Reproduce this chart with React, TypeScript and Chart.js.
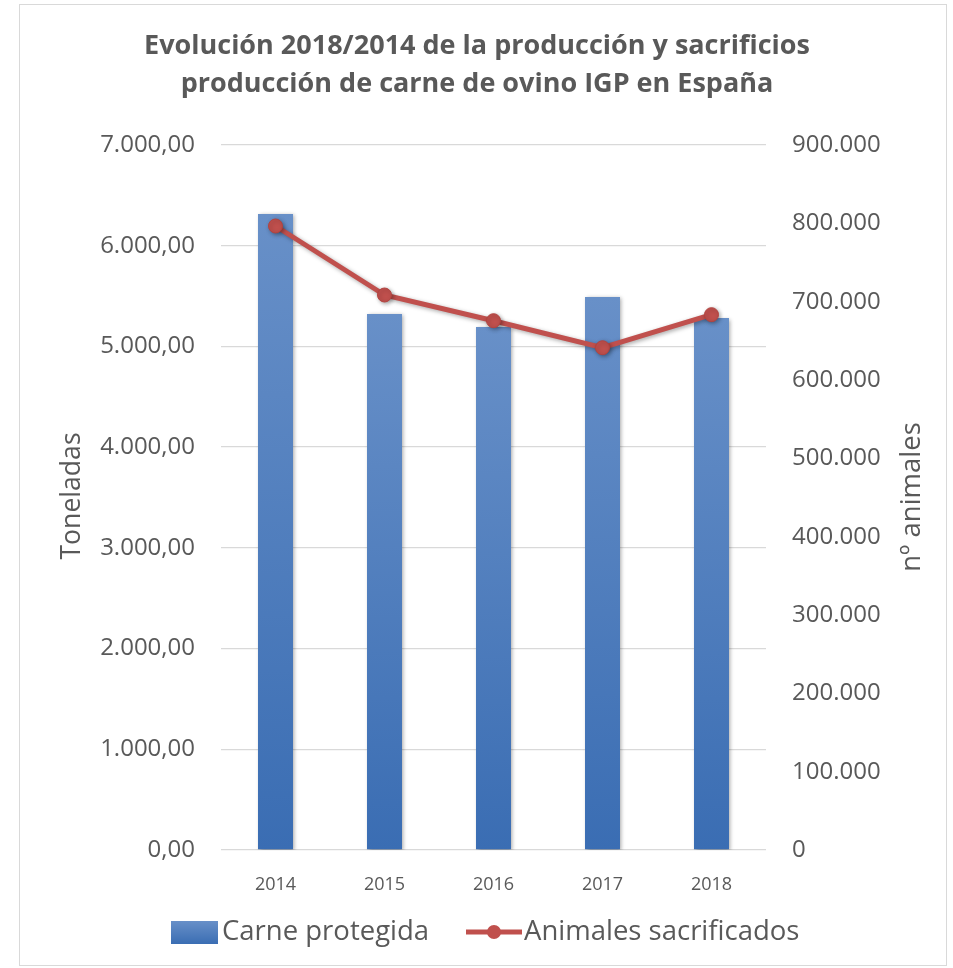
import React, { useEffect, useRef } from "react";
import { Chart, registerables } from "chart.js";

Chart.register(...registerables);

const years = ["2014", "2015", "2016", "2017", "2018"];
const carneProtegida = [6315, 5322, 5193, 5491, 5282];
const animalesSacrificados = [796600, 708500, 675700, 641200, 683400];
const titleLines = [
  "Evolución 2018/2014 de la producción y sacrificios",
  "producción de carne de ovino IGP en España",
];
const leftAxisTitle = "Toneladas";
const rightAxisTitle = "nº animales";
const legendLabels = ["Carne protegida", "Animales sacrificados"];

const GRAY = "#595959";
const BAR_TOP = "#6890c8";
const BAR_BOTTOM = "#3a6db3";
const RED = "#c0504d";
const NARROW = "'Liberation Sans Narrow', 'Open Sans', sans-serif";
const SANS = "'Open Sans', sans-serif";

function fmtThousands(n: number): string {
  const s = Math.round(n).toString();
  return s.replace(/\B(?=(\d{3})+(?!\d))/g, ".");
}

const decorPlugin = {
  id: "decor",
  beforeDatasetDraw(chart: any) {
    const ctx = chart.ctx;
    ctx.save();
    ctx.shadowColor = "rgba(0,0,0,0.35)";
    ctx.shadowBlur = 4;
    ctx.shadowOffsetX = 1.5;
    ctx.shadowOffsetY = 1.5;
  },
  afterDatasetDraw(chart: any) {
    chart.ctx.restore();
  },
  afterDraw(chart: any) {
    const ctx = chart.ctx;
    ctx.save();
    // frame
    ctx.strokeStyle = "#d9d9d9";
    ctx.lineWidth = 1;
    ctx.strokeRect(19.5, 4.5, 927, 961);

    // title
    ctx.fillStyle = GRAY;
    ctx.textAlign = "center";
    ctx.textBaseline = "middle";
    ctx.font = `bold 27px ${NARROW}`;
    ctx.fillText(titleLines[0], 477, 46);
    ctx.fillText(titleLines[1], 477, 84);

    // axis titles
    ctx.textBaseline = "alphabetic";
    ctx.font = `26.6px ${SANS}`;
    ctx.save();
    ctx.translate(80, 496);
    ctx.rotate(-Math.PI / 2);
    ctx.fillText(leftAxisTitle, 0, 0);
    ctx.restore();
    ctx.font = `27.5px ${SANS}`;
    ctx.save();
    ctx.translate(920, 497);
    ctx.rotate(-Math.PI / 2);
    ctx.fillText(rightAxisTitle, 0, 0);
    ctx.restore();

    // legend
    ctx.textBaseline = "middle";
    const g = ctx.createLinearGradient(0, 921, 0, 944);
    g.addColorStop(0, BAR_TOP);
    g.addColorStop(1, BAR_BOTTOM);
    ctx.fillStyle = g;
    ctx.fillRect(171, 921, 47, 23);
    ctx.strokeStyle = RED;
    ctx.lineWidth = 5;
    ctx.beginPath();
    ctx.moveTo(466, 932);
    ctx.lineTo(522, 932);
    ctx.stroke();
    ctx.fillStyle = RED;
    ctx.beginPath();
    ctx.arc(494, 932, 7, 0, Math.PI * 2);
    ctx.fill();
    ctx.fillStyle = GRAY;
    ctx.textAlign = "left";
    ctx.font = `27.5px ${SANS}`;
    ctx.fillText(legendLabels[0], 222, 932);
    ctx.fillText(legendLabels[1], 524, 932);
    ctx.restore();
  },
};

export default function App() {
  const ref = useRef<HTMLCanvasElement | null>(null);
  useEffect(() => {
    if (!ref.current) return;
    const chart = new Chart(ref.current, {
      type: "bar",
      data: {
        labels: years,
        datasets: [
          {
            type: "line",
            label: legendLabels[1],
            data: animalesSacrificados,
            yAxisID: "y1",
            borderColor: RED,
            borderWidth: 5,
            pointRadius: 7,
            pointBackgroundColor: RED,
            pointBorderColor: "#b3433f",
            pointBorderWidth: 1,
            tension: 0,
            order: 0,
          } as any,
          {
            type: "bar",
            label: legendLabels[0],
            data: carneProtegida,
            yAxisID: "y",
            barPercentage: 0.321,
            categoryPercentage: 1,
            backgroundColor: (c: any) => {
              const chart = c.chart;
              if (!chart.chartArea || c.raw == null) return BAR_BOTTOM;
              const ys = chart.scales.y;
              const top = ys.getPixelForValue(c.raw);
              const bottom = ys.getPixelForValue(0);
              const g = chart.ctx.createLinearGradient(0, top, 0, bottom);
              g.addColorStop(0, BAR_TOP);
              g.addColorStop(1, BAR_BOTTOM);
              return g;
            },
            order: 1,
          } as any,
        ],
      },
      options: {
        responsive: false,
        animation: false,
        layout: { padding: { top: 145, bottom: 68, left: 0, right: 0 } },
        plugins: {
          legend: { display: false },
          title: { display: false },
          tooltip: { enabled: false },
        },
        scales: {
          x: {
            grid: { display: false },
            border: { display: false },
            ticks: {
              color: GRAY,
              font: { family: NARROW, size: 18 },
              padding: 16,
            },
            afterFit: (s: any) => {
              s.height = 50;
            },
          },
          y: {
            position: "left",
            min: 0,
            max: 7000,
            grid: { color: "#d9d9d9", lineWidth: 1.3, drawTicks: false },
            border: { display: false },
            ticks: {
              stepSize: 1000,
              color: GRAY,
              font: { family: SANS, size: 24 },
              padding: 26,
              callback: (v: any) => fmtThousands(Number(v)) + ",00",
            },
            afterFit: (s: any) => {
              s.width = 221;
            },
          },
          y1: {
            position: "right",
            min: 0,
            max: 900000,
            grid: { display: false, drawTicks: false },
            border: { display: false },
            ticks: {
              stepSize: 100000,
              color: GRAY,
              font: { family: SANS, size: 24 },
              padding: 26,
              callback: (v: any) => fmtThousands(Number(v)),
            },
            afterFit: (s: any) => {
              s.width = 187;
            },
          },
        },
      },
      plugins: [decorPlugin],
    });
    return () => chart.destroy();
  }, []);
  return (
    <div style={{ position: "absolute", left: 0, top: 0, width: 953, height: 968 }}>
      <canvas ref={ref} width={953} height={968} style={{ display: "block" }} />
    </div>
  );
}
